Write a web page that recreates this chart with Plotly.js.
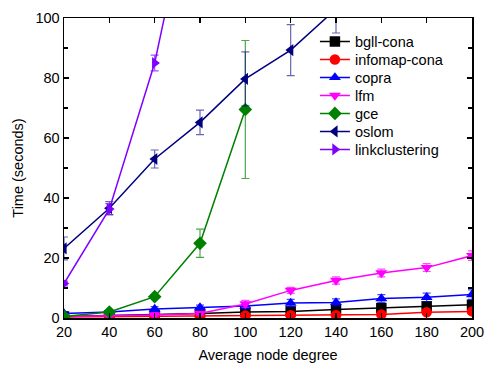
<!DOCTYPE html>
<html>
<head>
<meta charset="utf-8">
<script src="https://cdn.plot.ly/plotly-3.0.1.min.js"></script>
<style>
  html, body { margin: 0; padding: 0; background: #fff; }
  #chart { width: 485px; height: 367px; }
</style>
</head>
<body>
<div id="chart"></div>
<script>
// Average node degree on the x axis
const degrees = [20, 40, 60, 80, 100, 120, 140, 160, 180, 200];

// Running time (seconds) per algorithm, with error half-widths
const bgllCona = [0.5, 0.8, 1.0, 1.5, 2.0, 2.2, 2.8, 3.3, 3.9, 4.4];
const bgllConaErr = [0.3, 0.3, 0.3, 0.4, 0.4, 0.5, 0.5, 0.6, 0.7, 0.8];

const infomapCona = [0.3, 0.4, 0.5, 0.6, 0.8, 0.9, 0.9, 1.2, 1.9, 2.2];
const infomapConaErr = [0.2, 0.2, 0.3, 0.3, 0.3, 0.4, 0.4, 0.5, 0.6, 0.7];

const copra = [1.5, 2.0, 3.0, 3.5, 4.0, 5.0, 5.2, 6.5, 6.9, 7.8];
const copraErr = [0.5, 0.5, 0.8, 0.8, 1.0, 1.2, 1.2, 1.3, 1.4, 1.6];

const lfm = [0.5, 0.7, 1.0, 1.5, 4.7, 9.2, 12.5, 15.0, 16.8, 20.8];
const lfmErr = [0.3, 0.4, 0.6, 0.6, 1.2, 1.0, 1.2, 1.3, 1.3, 1.6];

const gceX = [20, 40, 60, 80, 100];
const gce = [0.5, 2.0, 7.1, 24.9, 69.5];
const gceErr = [0.3, 0.5, 0.6, 4.7, 23.0];

const oslomX = [20, 40, 60, 80, 100, 120, 140];
const oslom = [23.2, 36.6, 53.0, 65.2, 79.7, 89.3, 103.0];
const oslomErr = [3.8, 2.2, 3.0, 4.1, 9.0, 8.5, 8.0];

const linkX = [20, 40, 60, 80];
const linkclustering = [11.5, 36.3, 85.0, 156.0];
const linkErr = [0.8, 1.8, 2.6, 5.0];

const series = [
  { name: 'bgll-cona', x: degrees, y: bgllCona, err: bgllConaErr, color: '#000000', errColor: 'rgba(0,0,0,0.75)', symbol: 'square' },
  { name: 'infomap-cona', x: degrees, y: infomapCona, err: infomapConaErr, color: '#ff0000', errColor: 'rgba(255,0,0,0.7)', symbol: 'circle' },
  { name: 'copra', x: degrees, y: copra, err: copraErr, color: '#0000ff', errColor: 'rgba(0,0,255,0.7)', symbol: 'triangle-up' },
  { name: 'lfm', x: degrees, y: lfm, err: lfmErr, color: '#ff00ff', errColor: 'rgba(255,0,255,0.7)', symbol: 'triangle-down' },
  { name: 'gce', x: gceX, y: gce, err: gceErr, color: '#008000', errColor: 'rgba(0,128,0,0.7)', symbol: 'diamond' },
  { name: 'oslom', x: oslomX, y: oslom, err: oslomErr, color: '#000080', errColor: 'rgba(0,0,128,0.6)', symbol: 'triangle-left' },
  { name: 'linkclustering', x: linkX, y: linkclustering, err: linkErr, color: '#8000ff', errColor: 'rgba(128,0,255,0.7)', symbol: 'triangle-right' }
];

const traces = series.map(s => ({
  type: 'scatter',
  mode: 'lines+markers',
  name: s.name,
  x: s.x,
  y: s.y,
  line: { color: s.color, width: 1.5 },
  marker: { color: s.color, symbol: s.symbol, size: 10.5 },
  error_y: { type: 'data', array: s.err, visible: true, color: s.errColor, thickness: 1.2, width: 4 }
}));

const FONT_FAMILY = 'Liberation Sans, Arial, sans-serif';
const axisFont = { family: FONT_FAMILY, size: 14.5, color: '#000' };

const layout = {
  width: 485,
  height: 367,
  margin: { l: 64, r: 13, t: 18, b: 49 },
  paper_bgcolor: '#fff',
  plot_bgcolor: '#fff',
  font: axisFont,
  showlegend: true,
  legend: {
    x: 0.615, y: 0.975, xanchor: 'left', yanchor: 'top',
    bgcolor: 'rgba(0,0,0,0)',
    font: { family: FONT_FAMILY, size: 14.5, color: '#000' },
    tracegroupgap: 0,
    itemwidth: 30
  },
  xaxis: {
    range: [20, 200],
    tickmode: 'array',
    tickvals: degrees,
    ticktext: degrees.map(String),
    ticks: 'inside', ticklen: 5, tickwidth: 1.2, tickcolor: '#000',
    showline: true, linecolor: '#000', linewidth: 1.5, mirror: 'allticks',
    showgrid: false, zeroline: false,
    tickfont: axisFont,
    title: { text: 'Average node degree', font: axisFont, standoff: 11 }
  },
  yaxis: {
    range: [0, 100],
    tickmode: 'linear', tick0: 0, dtick: 20,
    ticks: 'inside', ticklen: 5, tickwidth: 1.2, tickcolor: '#000',
    minor: { dtick: 10, ticks: 'inside', ticklen: 4, tickwidth: 1.2, tickcolor: '#000', showgrid: false },
    showline: true, linecolor: '#000', linewidth: 1.5, mirror: 'allticks',
    showgrid: false, zeroline: false,
    tickfont: axisFont,
    title: { text: 'Time (seconds)', font: axisFont, standoff: 8 }
  }
};

// Tighten legend row spacing to 18px per entry
const LEGEND_ROW = 18;

Plotly.newPlot('chart', traces, layout, { displayModeBar: false, staticPlot: true }).then(gd => {
  const rows = gd.querySelectorAll('.legend .traces');
  if (!rows.length) return;
  const m = /translate\(\s*([-\d.]+)[ ,]+([-\d.]+)\s*\)/.exec(rows[0].getAttribute('transform') || '');
  const x0 = m ? parseFloat(m[1]) : 0;
  const y0 = m ? parseFloat(m[2]) : 0;
  rows.forEach((g, i) => g.setAttribute('transform', `translate(${x0},${y0 + i * LEGEND_ROW})`));
});
</script>
</body>
</html>
